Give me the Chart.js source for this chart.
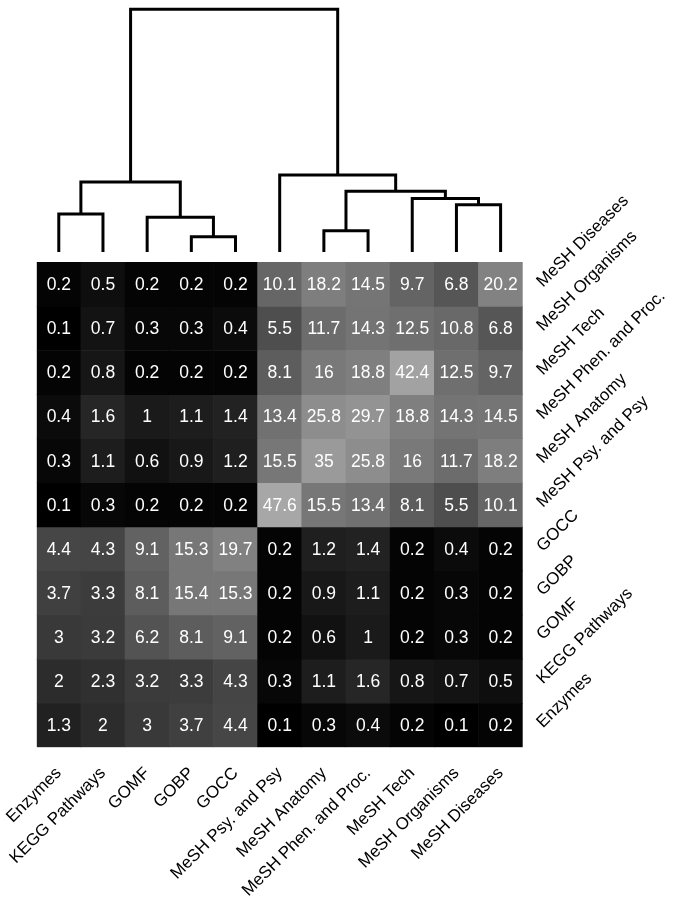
<!DOCTYPE html>
<html lang="en">
<head>
<meta charset="UTF-8">
<title>Heatmap with dendrogram</title>
<script src="https://cdn.jsdelivr.net/npm/chart.js"></script>
<style>
  body { margin: 0; background: #fff; }
  #wrap { width: 679px; height: 900px; }
</style>
</head>
<body>
<div id="wrap"><canvas id="heat"></canvas></div>
<script>
// columns, left to right
const colLabels = ['Enzymes', 'KEGG Pathways', 'GOMF', 'GOBP', 'GOCC', 'MeSH Psy. and Psy',
  'MeSH Anatomy', 'MeSH Phen. and Proc.', 'MeSH Tech', 'MeSH Organisms', 'MeSH Diseases'];
// rows, top to bottom
const rowLabels = ['MeSH Diseases', 'MeSH Organisms', 'MeSH Tech', 'MeSH Phen. and Proc.', 'MeSH Anatomy',
  'MeSH Psy. and Psy', 'GOCC', 'GOBP', 'GOMF', 'KEGG Pathways', 'Enzymes'];

// cell values, one array per row (top to bottom)
const values = [
  [0.2, 0.5, 0.2, 0.2, 0.2, 10.1, 18.2, 14.5, 9.7, 6.8, 20.2],
  [0.1, 0.7, 0.3, 0.3, 0.4, 5.5, 11.7, 14.3, 12.5, 10.8, 6.8],
  [0.2, 0.8, 0.2, 0.2, 0.2, 8.1, 16, 18.8, 42.4, 12.5, 9.7],
  [0.4, 1.6, 1, 1.1, 1.4, 13.4, 25.8, 29.7, 18.8, 14.3, 14.5],
  [0.3, 1.1, 0.6, 0.9, 1.2, 15.5, 35, 25.8, 16, 11.7, 18.2],
  [0.1, 0.3, 0.2, 0.2, 0.2, 47.6, 15.5, 13.4, 8.1, 5.5, 10.1],
  [4.4, 4.3, 9.1, 15.3, 19.7, 0.2, 1.2, 1.4, 0.2, 0.4, 0.2],
  [3.7, 3.3, 8.1, 15.4, 15.3, 0.2, 0.9, 1.1, 0.2, 0.3, 0.2],
  [3, 3.2, 6.2, 8.1, 9.1, 0.2, 0.6, 1, 0.2, 0.3, 0.2],
  [2, 2.3, 3.2, 3.3, 4.3, 0.3, 1.1, 1.6, 0.8, 0.7, 0.5],
  [1.3, 2, 3, 3.7, 4.4, 0.1, 0.3, 0.4, 0.2, 0.1, 0.2]
];

// dendrogram merges over the columns: [left, right, height]; leaves 0..10, new clusters from 11
const merges = [
  [3, 4, 0.063],
  [2, 11, 0.143],
  [0, 1, 0.157],
  [13, 12, 0.288],
  [9, 10, 0.195],
  [6, 7, 0.088],
  [8, 15, 0.220],
  [16, 17, 0.250],
  [5, 18, 0.317],
  [14, 19, 1.0]
];

// page geometry (px)
const W = 679, H = 900;
const plotLeft = 36.7, plotRight = 522.7, plotTop = 5, plotBottom = 747.3;
const gridTop = 262.3, leafBase = 252, rootY = 9.3;
const fontFam = "'Liberation Sans', Arial, Helvetica, sans-serif";

const nRows = rowLabels.length;
const rowPx = (plotBottom - gridTop) / nRows;
const yMax = (plotBottom - plotTop) / rowPx;
const rootH = Math.max(...merges.map(m => m[2]));
const dPx = (leafBase - rootY) / rootH;
const ydMin = -(plotBottom - leafBase) / dPx;
const ydMax = (leafBase - plotTop) / dPx;

// grey level from log of value
const allVals = values.flat();
const lo = Math.log1p(Math.min(...allVals)), hi = Math.log1p(Math.max(...allVals));
function shade(v) {
  const g = Math.round(167 * (Math.log1p(v) - lo) / (hi - lo));
  return `rgb(${g}, ${g}, ${g})`;
}

// heatmap rows as floating bars
const datasets = values.map((row, r) => ({
  type: 'bar',
  xAxisID: 'x',
  yAxisID: 'y',
  data: row.map(() => [nRows - 1 - r, nRows - r]),
  backgroundColor: row.map(shade),
  borderWidth: 0,
  barPercentage: 1,
  categoryPercentage: 1,
  grouped: false,
  cellText: row.map(v => String(v))
}));

// dendrogram as line segments
const nodeX = colLabels.map((_, i) => i);
const nodeH = colLabels.map(() => 0);
merges.forEach(([a, b, h]) => {
  datasets.push({
    type: 'line',
    xAxisID: 'xd',
    yAxisID: 'yd',
    data: [
      { x: nodeX[a], y: nodeH[a] },
      { x: nodeX[a], y: h },
      { x: nodeX[b], y: h },
      { x: nodeX[b], y: nodeH[b] }
    ],
    borderColor: '#000',
    borderWidth: 3,
    borderJoinStyle: 'miter',
    pointRadius: 0,
    fill: false,
    tension: 0
  });
  nodeX.push((nodeX[a] + nodeX[b]) / 2);
  nodeH.push(h);
});

// white numbers in the cells
const cellLabels = {
  id: 'cellLabels',
  afterDatasetsDraw(chart) {
    const ctx = chart.ctx;
    ctx.save();
    ctx.fillStyle = '#fff';
    ctx.font = '17.5px ' + fontFam;
    ctx.textAlign = 'center';
    ctx.textBaseline = 'middle';
    chart.data.datasets.forEach((ds, i) => {
      if (!ds.cellText) return;
      chart.getDatasetMeta(i).data.forEach((bar, c) => {
        const p = bar.getProps(['x', 'y', 'base'], true);
        ctx.fillText(ds.cellText[c], p.x, (p.y + p.base) / 2 + 1);
      });
    });
    ctx.restore();
  }
};

const hiddenAxis = {
  offset: false,
  grid: { display: false, drawTicks: false, offset: false },
  border: { display: false },
  ticks: { display: false }
};

new Chart(document.getElementById('heat'), {
  type: 'bar',
  data: { labels: colLabels, datasets: datasets },
  options: {
    responsive: true,
    maintainAspectRatio: false,
    animation: false,
    events: [],
    layout: { padding: { left: plotLeft, top: plotTop, right: 0, bottom: 0 } },
    plugins: { legend: { display: false }, tooltip: { enabled: false } },
    scales: {
      x: {
        type: 'category',
        position: 'bottom',
        grid: { display: false, drawTicks: false },
        border: { display: false },
        ticks: {
          autoSkip: false, minRotation: 45, maxRotation: 45, padding: 16,
          color: '#000', font: { family: fontFam, size: 17 }
        },
        afterFit(s) { s.height = H - plotBottom; s.paddingLeft = 0; s.paddingRight = 0; }
      },
      xd: {
        ...hiddenAxis,
        type: 'linear',
        position: 'bottom',
        min: -0.5,
        max: colLabels.length - 0.5,
        afterFit(s) { s.height = 0; s.paddingLeft = 0; s.paddingRight = 0; }
      },
      y: {
        type: 'linear',
        position: 'right',
        min: 0,
        max: yMax,
        grid: { display: false, drawTicks: false },
        border: { display: false },
        afterBuildTicks(s) { s.ticks = rowLabels.map((_, i) => ({ value: i + 0.5 })); },
        ticks: {
          autoSkip: false, minRotation: 45, maxRotation: 45, padding: 17,
          color: '#000', font: { family: fontFam, size: 17 },
          callback: (v, i) => rowLabels[nRows - 1 - i]
        },
        afterFit(s) { s.width = W - plotRight; s.paddingTop = 0; s.paddingBottom = 0; }
      },
      yd: {
        ...hiddenAxis,
        type: 'linear',
        position: 'right',
        min: ydMin,
        max: ydMax,
        afterFit(s) { s.width = 0; s.paddingTop = 0; s.paddingBottom = 0; }
      }
    }
  },
  plugins: [cellLabels]
});
</script>
</body>
</html>
